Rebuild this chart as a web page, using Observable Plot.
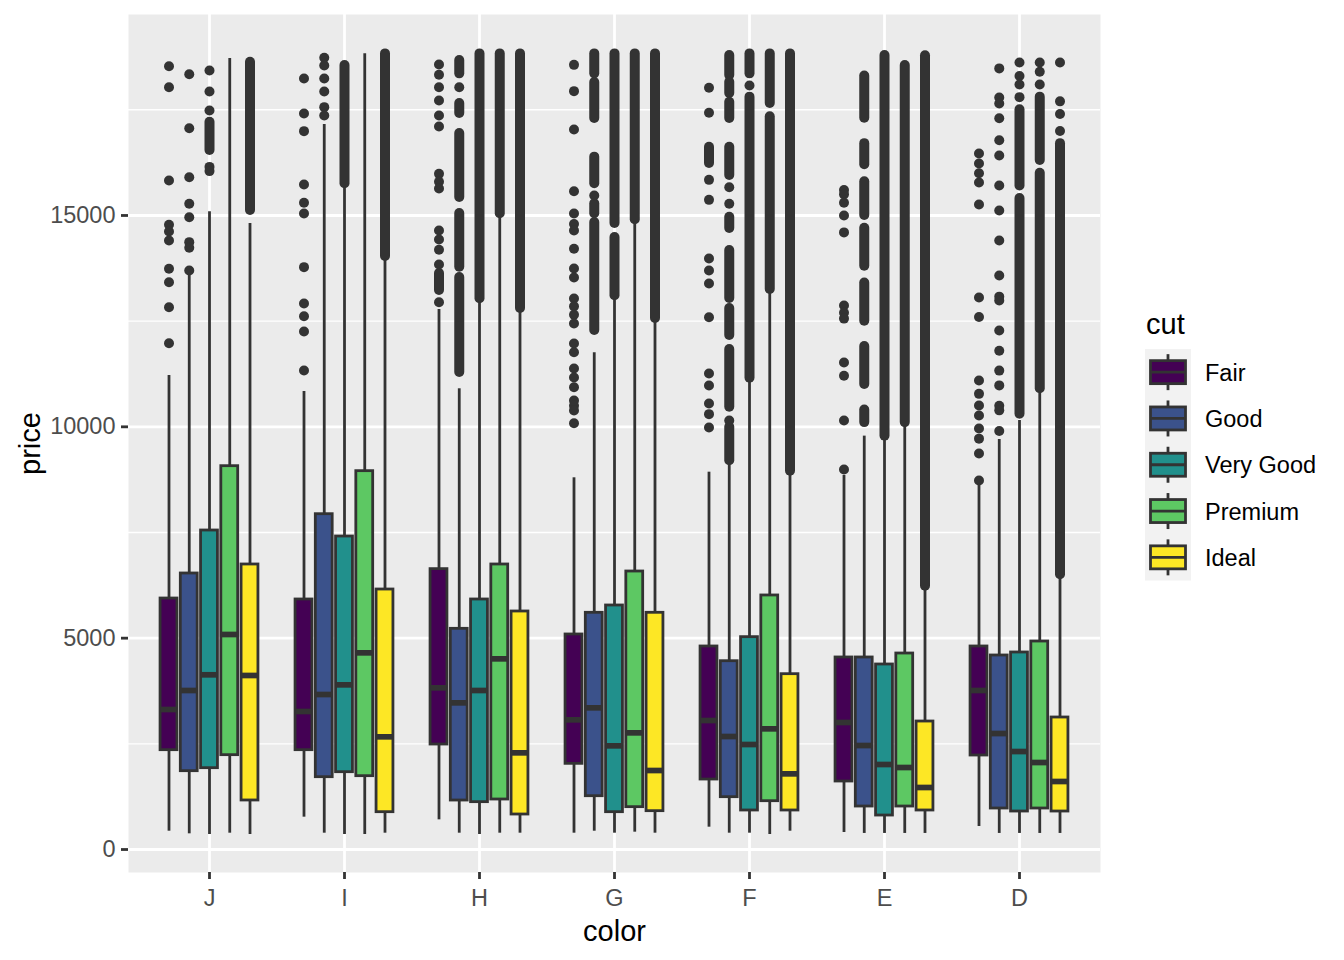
<!DOCTYPE html>
<html>
<head>
<meta charset="utf-8">
<script src="https://cdn.jsdelivr.net/npm/d3@7"></script>
<script src="https://cdn.jsdelivr.net/npm/@observablehq/plot@0.6"></script>
<style>
  html, body { margin: 0; padding: 0; background: white; }
  #wrap { position: relative; width: 1344px; height: 960px; font-family: "Liberation Sans", Arial, sans-serif; }
  #legend { position: absolute; left: 0; top: 0; }
</style>
</head>
<body>
<div id="wrap"></div>
<script>
const colors = ["J", "I", "H", "G", "F", "E", "D"];
const cuts = ["Fair", "Good", "Very Good", "Premium", "Ideal"];
const cutFills = ["#440154", "#3B528B", "#21908C", "#5DC863", "#FDE725"];
const yTicks = [0, 5000, 10000, 15000];
const yMinor = [2500, 7500, 12500, 17500];

// box statistics, rows = color (J..D), columns = cut (Fair..Ideal)
const whiskerLow = [
  [433, 371, 355, 386, 355],
  [765, 386, 355, 355, 386],
  [702, 386, 355, 386, 386],
  [386, 433, 386, 410, 386],
  [528, 386, 386, 355, 433],
  [402, 380, 380, 380, 380],
  [544, 380, 380, 380, 380]
];
const q1 = [
  [2350, 1853, 1924, 2232, 1160],
  [2350, 1711, 1829, 1735, 883],
  [2484, 1159, 1120, 1183, 828],
  [2027, 1261, 883, 1002, 907],
  [1656, 1238, 923, 1143, 923],
  [1609, 1017, 804, 1017, 923],
  [2224, 970, 899, 970, 899]
];
const median = [
  [3312, 3762, 4133, 5087, 4117],
  [3265, 3667, 3896, 4653, 2666],
  [3825, 3470, 3762, 4511, 2287],
  [3068, 3352, 2453, 2760, 1869],
  [3052, 2673, 2484, 2855, 1790],
  [3005, 2460, 2011, 1940, 1467],
  [3762, 2744, 2318, 2058, 1609]
];
const q3 = [
  [5938, 6530, 7547, 9069, 6743],
  [5915, 7933, 7405, 8951, 6151],
  [6633, 5221, 5915, 6743, 5631],
  [5087, 5600, 5773, 6577, 5600],
  [4803, 4455, 5024, 6010, 4148],
  [4543, 4543, 4377, 4637, 3028],
  [4803, 4590, 4661, 4921, 3123]
];
const whiskerHigh = [
  [11214, 13600, 15087, 18714, 14810],
  [10836, 17153, 15670, 18825, 13975],
  [12776, 10900, 12989, 14960, 12713],
  [8794, 11750, 13068, 14842, 12530],
  [8927, 9102, 11096, 13186, 8889],
  [8850, 9780, 9724, 10055, 6180],
  [8650, 9700, 10150, 10800, 6411]
];

// individual outliers
const outlierDots = [
  [[18532, 18035, 15828, 14780, 14620, 14409, 13739, 13422, 12830, 11978],
   [18343, 17065, 15906, 15276, 14960, 14369, 14235, 13700],
   [18430, 17934, 17484, 16150, 16050], [], []],
  [[18240, 17413, 16995, 15733, 15300, 15047, 13778, 12918, 12618, 12255, 11333],
   [18730, 18548, 18240, 17934, 17563, 17366], [], [], []],
  [[18572, 18328, 18035, 17720, 17366, 17105, 15985, 15800, 15638, 14645, 14432, 14188, 13840, 12948],
   [18035], [], [], []],
  [[18564, 17942, 17034, 15575, 15047, 14800, 14645, 14212, 13747, 13533, 13036, 12850, 12650, 12444, 11970, 11766, 11380, 11168, 10938, 10623, 10500, 10386, 10086],
   [15473], [], [], []],
  [[18020, 17429, 15843, 15370, 13983, 13700, 13391, 12594, 11262, 10978, 10552, 10300, 9985],
   [15670, 15276, 10150], [18075], [], []],
  [[15600, 15500, 15300, 15000, 14600, 12870, 12700, 12560, 11520, 11210, 10150, 8990],
   [], [], [], []],
  [[16467, 16230, 16000, 15780, 15260, 13060, 12600, 11096, 10780, 10504, 10270, 9960, 9720, 9370, 8730],
   [18480, 17790, 17650, 17300, 16780, 16420, 15710, 15120, 14410, 13580, 13080, 12990, 12280, 11800, 11330, 10980, 10500, 10390, 9900],
   [17800, 18100, 18300, 18620], [18100, 18400, 18620], [17000, 17400, 17700, 18620]]
];

// runs of overlapping outliers [low, high]
const outlierRuns = [
  [[], [], [[16538, 17207]], [], [[15118, 18627]]],
  [[], [], [[15749, 18548]], [], [[14030, 18823]]],
  [[[13225, 13628]],
   [[18351, 18667], [17413, 17650], [15425, 16940], [13778, 15047], [11286, 13533]],
   [[13029, 18823]], [[15040, 18823]], [[12800, 18823]]],
  [[], [[18351, 18823], [17295, 18146], [15749, 16380], [15040, 15276], [12279, 14834]],
   [[14810, 18823], [13100, 14480]], [[14900, 18823]], [[12562, 18823]]],
  [[[16230, 16616]],
   [[18312, 18785], [17886, 18154], [17295, 17681], [15946, 16616], [14692, 14960], [13036, 14172], [12160, 12800], [10464, 11829], [9200, 9991]],
   [[18351, 18823], [11150, 17800]], [[17650, 18823], [13250, 17334]], [[8950, 18823]]],
  [[], [[17300, 18300], [16200, 16700], [15000, 15800], [13800, 14700], [12500, 13400], [11000, 11900], [10100, 10400]],
   [[9780, 18785]], [[10100, 18550]], [[6230, 18780]]],
  [[], [], [[10300, 15400], [15700, 17500]], [[10900, 16000], [16300, 17800]], [[6500, 16700]]]
];

// build tables
const dodge = 0.15, halfW = 0.0625;
const boxes = [], dots = [], runs = [];
colors.forEach((c, ci) => cuts.forEach((k, ki) => {
  const x = ci + 1 + (ki - 2) * dodge;
  boxes.push({color: c, cut: k, x, lo: whiskerLow[ci][ki], q1: q1[ci][ki], med: median[ci][ki], q3: q3[ci][ki], hi: whiskerHigh[ci][ki]});
  outlierDots[ci][ki].forEach(v => dots.push({x, v}));
  outlierRuns[ci][ki].forEach(([a, b]) => runs.push({x, lo: a, hi: b}));
}));

const dark = "#333333";
const font = "Liberation Sans, Arial, sans-serif";

const chart = Plot.plot({
  width: 1344, height: 960,
  marginLeft: 128, marginRight: 244, marginTop: 14, marginBottom: 88,
  style: {fontFamily: font, background: "white", overflow: "visible"},
  x: {type: "linear", domain: [0.4, 7.6], axis: null},
  y: {domain: [-544, 19755], axis: null},
  color: {domain: cuts, range: cutFills},
  marks: [
    Plot.frame({fill: "#EBEBEB", stroke: null}),
    Plot.ruleY(yMinor, {stroke: "white", strokeWidth: 1.4}),
    Plot.ruleY(yTicks, {stroke: "white", strokeWidth: 2.8}),
    Plot.ruleX(d3.range(1, colors.length + 1), {stroke: "white", strokeWidth: 2.8}),
    Plot.ruleX(runs, {x: "x", y1: "lo", y2: "hi", stroke: dark, strokeWidth: 10, strokeLinecap: "round"}),
    Plot.dot(dots, {x: "x", y: "v", r: 5, fill: dark, stroke: null}),
    Plot.ruleX(boxes, {x: "x", y1: "lo", y2: "q1", stroke: dark, strokeWidth: 2.8}),
    Plot.ruleX(boxes, {x: "x", y1: "q3", y2: "hi", stroke: dark, strokeWidth: 2.8}),
    Plot.rect(boxes, {x1: d => d.x - halfW, x2: d => d.x + halfW, y1: "q1", y2: "q3", fill: "cut", stroke: dark, strokeWidth: 2.8}),
    Plot.ruleY(boxes, {x1: d => d.x - halfW, x2: d => d.x + halfW, y: "med", stroke: dark, strokeWidth: 5.7}),
    Plot.axisY({ticks: yTicks, tickFormat: d => String(d), tickSize: 7, tickPadding: 6, fontSize: 23.5, fill: "#4D4D4D", stroke: dark, strokeWidth: 2.8, label: null}),
    Plot.axisX({ticks: d3.range(1, colors.length + 1), tickFormat: i => colors[i - 1], tickSize: 7, tickPadding: 10, fontSize: 23.5, fill: "#4D4D4D", stroke: dark, strokeWidth: 2.8, label: null}),
    Plot.text(["price"], {text: d => d, frameAnchor: "left", dx: -98, rotate: -90, textAnchor: "middle", lineAnchor: "middle", fontSize: 29, fill: "black"}),
    Plot.text(["color"], {text: d => d, frameAnchor: "bottom", dy: 59, textAnchor: "middle", lineAnchor: "middle", fontSize: 29, fill: "black"})
  ]
});

const wrap = document.getElementById("wrap");
wrap.appendChild(chart);

// legend
const lg = d3.create("svg").attr("id", "legend").attr("width", 1344).attr("height", 960)
  .style("font-family", font);
lg.append("text").attr("x", 1146).attr("y", 334).attr("font-size", 29).attr("fill", "black").text("cut");
const keyH = 46.3, keyTop = 349, kx = 1168;
lg.append("rect").attr("x", 1145).attr("y", keyTop).attr("width", 46).attr("height", keyH * cuts.length).attr("fill", "#F2F2F2");
cuts.forEach((k, i) => {
  const cy = keyTop + keyH * (i + 0.5);
  const g = lg.append("g");
  g.append("line").attr("x1", kx).attr("x2", kx).attr("y1", cy - 18).attr("y2", cy + 18).attr("stroke", dark).attr("stroke-width", 2.8);
  g.append("rect").attr("x", 1150.5).attr("y", cy - 11.5).attr("width", 35).attr("height", 23)
    .attr("fill", cutFills[i]).attr("stroke", dark).attr("stroke-width", 2.8);
  g.append("line").attr("x1", 1150.5).attr("x2", 1185.5).attr("y1", cy).attr("y2", cy).attr("stroke", dark).attr("stroke-width", 2.8);
  g.append("text").attr("x", 1205).attr("y", cy).attr("dy", "0.36em").attr("font-size", 23.5).attr("fill", "black").text(k);
});
wrap.appendChild(lg.node());
</script>
</body>
</html>
